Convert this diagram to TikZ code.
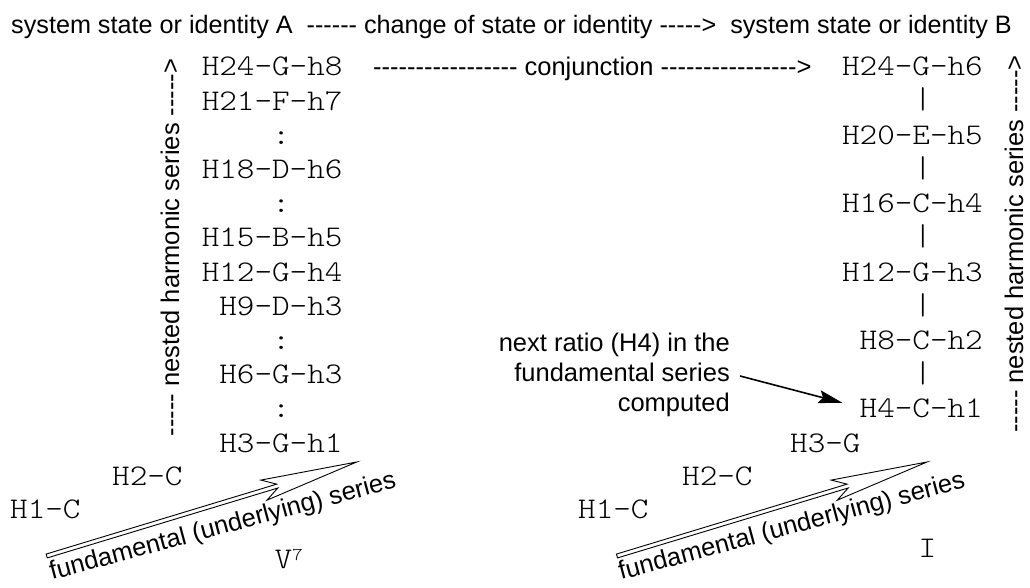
\documentclass[tikz,border=0pt]{standalone}
\usepackage{fontspec}
\setmainfont{Liberation Sans}[Ligatures=TeXOff]
\newfontfamily\cour{Latin Modern Mono Light}[FakeStretch=1.117,Ligatures=TeXOff]
\usetikzlibrary{arrows.meta}
\begin{document}
\begin{tikzpicture}[x=1pt,y=1pt,
  sans/.style={font=\fontsize{25.5}{30}\selectfont, inner sep=0pt},
  mono/.style={font=\cour\fontsize{30}{34}\selectfont, inner sep=0pt, anchor=base east},
  monow/.style={mono, anchor=base west},
  monoc/.style={mono, anchor=base},
  hollow/.style={draw=black, fill=white, line width=0.9pt, line join=miter},
  pointer/.style={-{Stealth[length=24pt,width=13pt,inset=4pt]}, line width=1.6pt}]
\useasboundingbox (0,0) rectangle (1030,588);
% title
\node[sans, font=\fontsize{25.2}{30}\selectfont, anchor=base west] (title) at (11,554.7) {system state or identity A\ \ ------ change of state or identity -----> \ system state or identity B};
% left column
\node[mono] (l24) at (342.7,512) {H24-G-h8};
\node[mono] (l21) at (342.7,477.8) {H21-F-h7};
\node[monoc] (lc1) at (281.2,443.6) {:};
\node[mono] (l18) at (342.7,409.4) {H18-D-h6};
\node[monoc] (lc2) at (281.2,375.2) {:};
\node[mono] (l15) at (342.7,341) {H15-B-h5};
\node[mono] (l12) at (342.7,306.8) {H12-G-h4};
\node[mono] (l9) at (342.7,272.6) {H9-D-h3};
\node[monoc] (lc3) at (281.2,238.4) {:};
\node[mono] (l6) at (342.7,204.2) {H6-G-h3};
\node[monoc] (lc4) at (281.2,170) {:};
\node[mono] (l3) at (342.7,135.8) {H3-G-h1};
% right column
\node[mono] (r24) at (983,512) {H24-G-h6};
\node[monoc] (rb1) at (923,479) {|};
\node[mono] (r20) at (983,443.6) {H20-E-h5};
\node[monoc] (rb2) at (923,410.6) {|};
\node[mono] (r16) at (983,375.2) {H16-C-h4};
\node[monoc] (rb3) at (923,342.2) {|};
\node[mono] (r12) at (983,306.8) {H12-G-h3};
\node[monoc] (rb4) at (923,273.8) {|};
\node[mono] (r8) at (983,238.4) {H8-C-h2};
\node[monoc] (rb5) at (923,205.4) {|};
\node[mono] (r4) at (983,170) {H4-C-h1};
\node[monow] (r3) at (790,135.8) {H3-G};
% conjunction
\node[sans, anchor=base west] (conj) at (373,512) {----------------- conjunction ---------------->};
% nested series labels
\node[sans, rotate=90] (lnest) at (170,340.5) {----- nested harmonic series ----->};
\node[sans, rotate=90] (rnest) at (1014,344) {----- nested harmonic series ----->};
% bottom left
\node[monow] (lh2) at (112,102) {H2-C};
\node[monow] (lh1) at (10,69) {H1-C};
\node[monow] (lv) at (274.5,19) {V\raisebox{8pt}{\fontsize{18}{18}\selectfont 7}};
% bottom right
\node[monow] (rh2) at (682,102) {H2-C};
\node[monow] (rh1) at (578,69) {H1-C};
\node[monoc] (ri) at (927.5,30) {I};
% fundamental series arrows
\coordinate (ltail) at (46.7,32);
\coordinate (rtail) at (617,32);
\begin{scope}[shift={(ltail)}, rotate=16.87]
  \draw[hollow] (0,2) -- (241,2) -- (227,10.5) -- (324,0) -- (227,-10.5) -- (241,-2) -- (0,-2) -- cycle;
\end{scope}
\begin{scope}[shift={(rtail)}, rotate=16.87]
  \draw[hollow] (0,2) -- (241,2) -- (227,10.5) -- (324,0) -- (227,-10.5) -- (241,-2) -- (0,-2) -- cycle;
\end{scope}
\node[sans, rotate=15, anchor=base west] (lfund) at (52,8) {fundamental (underlying) series};
\node[sans, rotate=15, anchor=base west] (rfund) at (621,8) {fundamental (underlying) series};
% annotation
\node[sans, align=right, anchor=base east] (note) at (730,176) {next ratio (H4) in the\\fundamental series\\computed};
\coordinate (nstart) at (740,212);
\draw[pointer] (nstart) -- ([xshift=-17pt,yshift=6pt]r4.west);
\end{tikzpicture}
\end{document}
